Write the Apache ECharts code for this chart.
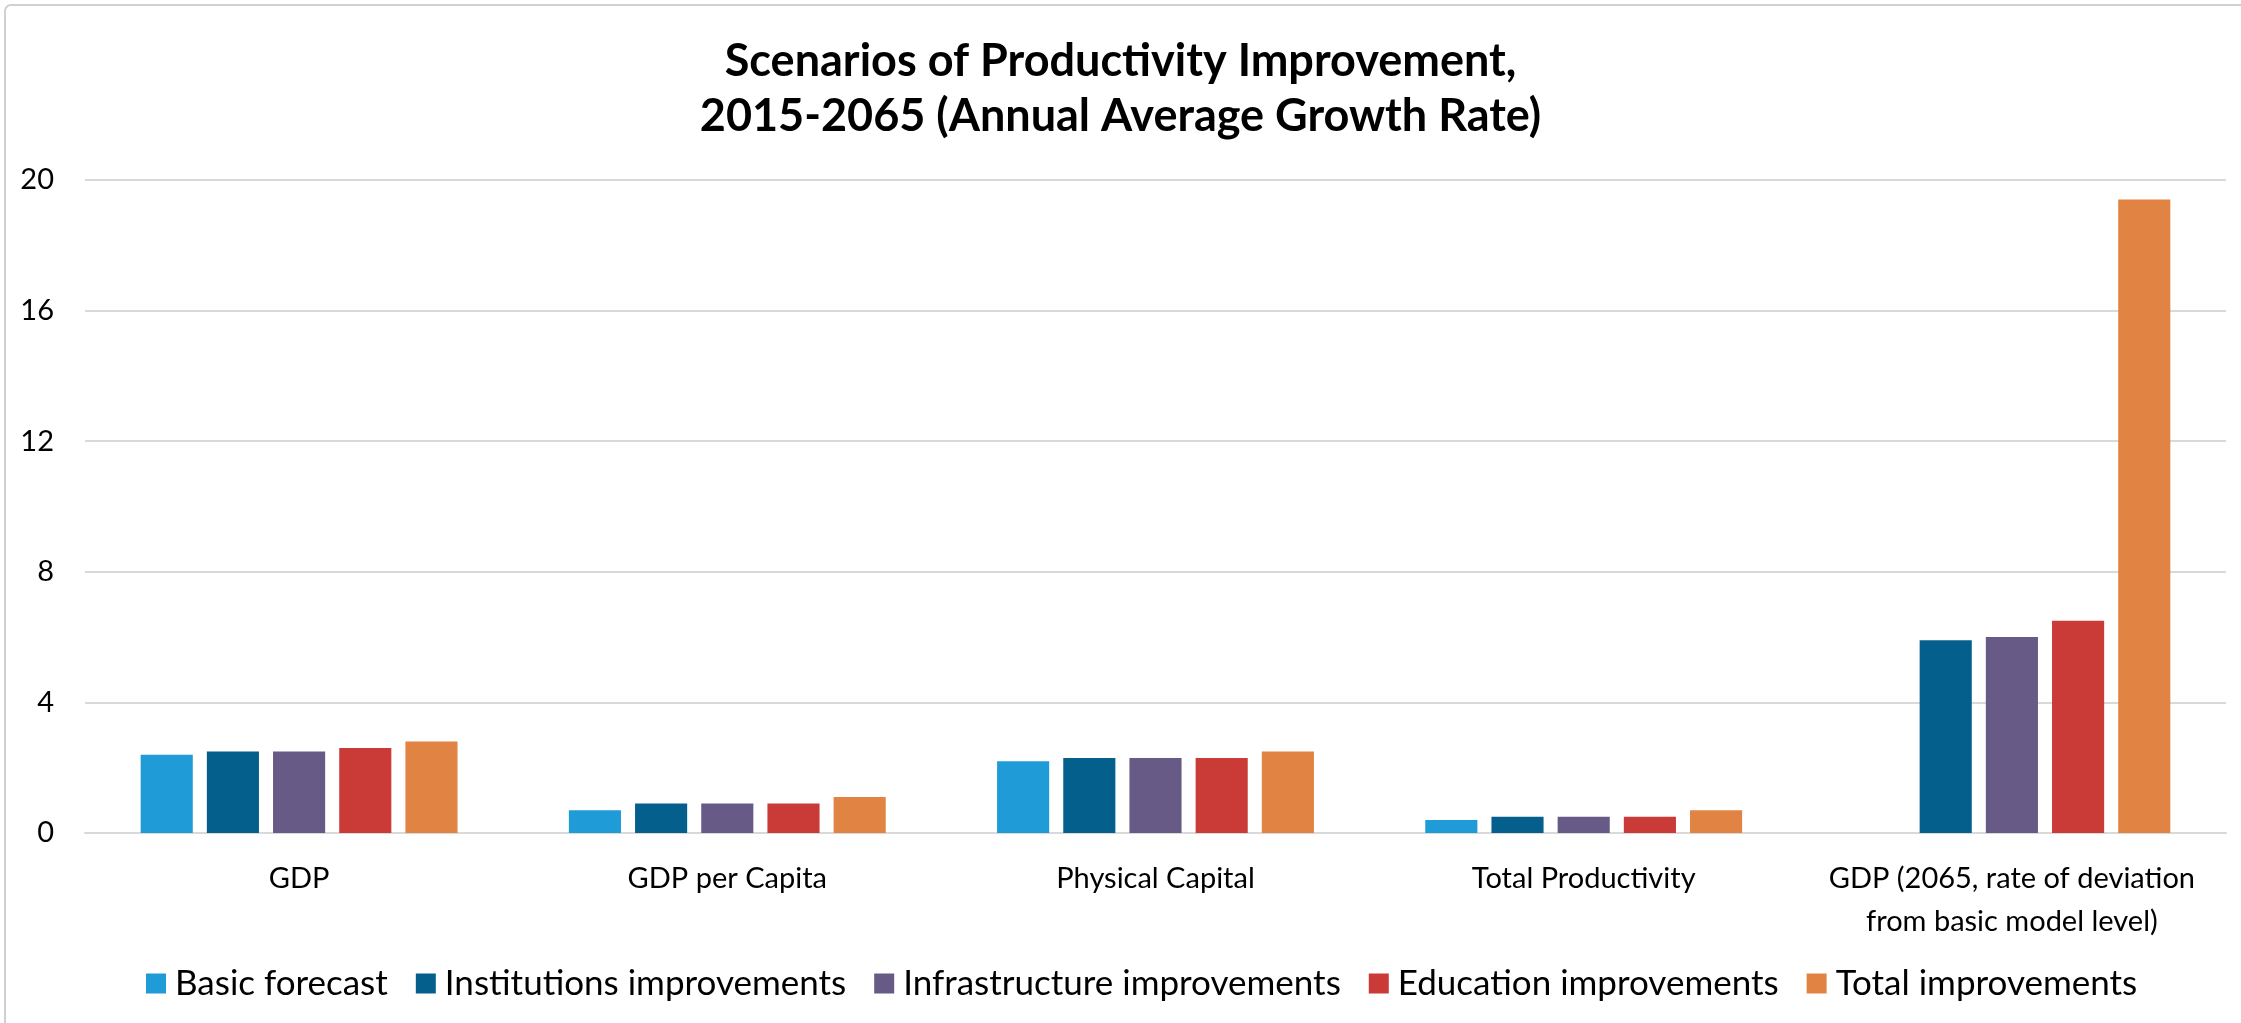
<!DOCTYPE html>
<html>
<head>
<meta charset="utf-8">
<style>
  html, body { margin: 0; padding: 0; background: #ffffff; }
  #chart { width: 2241px; height: 1023px; }
</style>
<script src="https://cdn.jsdelivr.net/npm/echarts@6/dist/echarts.min.js"></script>
</head>
<body>
<div id="chart"></div>
<script>
// Indicators on the category axis
const categories = [
  'GDP',
  'GDP per Capita',
  'Physical Capital',
  'Total Productivity',
  'GDP (2065, rate of deviation\nfrom basic model level)'
];

// Annual average growth rate per scenario (%)
const basicForecast = [2.4, 0.7, 2.2, 0.4, 0];
const institutionsImprovements = [2.5, 0.9, 2.3, 0.5, 5.9];
const infrastructureImprovements = [2.5, 0.9, 2.3, 0.5, 6.0];
const educationImprovements = [2.6, 0.9, 2.3, 0.5, 6.5];
const totalImprovements = [2.8, 1.1, 2.5, 0.7, 19.4];

// Value axis ticks
const yTicks = [0, 4, 8, 12, 16, 20];

const seriesDefs = [
  { name: 'Basic forecast', data: basicForecast, color: '#1f9bd7' },
  { name: 'Institutions improvements', data: institutionsImprovements, color: '#055f8c' },
  { name: 'Infrastructure improvements', data: infrastructureImprovements, color: '#675a86' },
  { name: 'Education improvements', data: educationImprovements, color: '#ca3a36' },
  { name: 'Total improvements', data: totalImprovements, color: '#e18443' }
];

const FONT = 'Lato, "Open Sans", sans-serif';

const chart = echarts.init(document.getElementById('chart'), null, { renderer: 'canvas' });

chart.setOption({
  backgroundColor: '#ffffff',
  animation: false,
  textStyle: { fontFamily: FONT },
  graphic: [{
    type: 'rect',
    shape: { x: 5, y: 5, width: 2260, height: 1040, r: 6 },
    style: { fill: 'none', stroke: '#d0d0d0', lineWidth: 2 },
    silent: true,
    z: -1
  }],
  title: {
    text: 'Scenarios of Productivity Improvement,\n2015-2065 (Annual Average Growth Rate)',
    left: 'center',
    top: 29,
    textStyle: {
      fontFamily: FONT,
      fontSize: 45,
      fontWeight: 'bold',
      color: '#000000',
      lineHeight: 55
    }
  },
  legend: {
    data: seriesDefs.map(s => s.name),
    left: 141,
    top: 961,
    itemWidth: 20,
    itemHeight: 20,
    itemGap: 28,
    icon: 'rect',
    textStyle: {
      fontFamily: FONT,
      fontSize: 35,
      color: '#000000',
      padding: [0, 0, 0, 4]
    }
  },
  grid: {
    left: 85,
    right: 15,
    top: 180,
    bottom: 190,
    containLabel: false
  },
  xAxis: {
    type: 'category',
    data: categories,
    axisLine: { show: true, lineStyle: { color: '#d9d9d9', width: 2 } },
    axisTick: { show: false },
    axisLabel: {
      fontFamily: FONT,
      fontSize: 29,
      color: '#000000',
      margin: 24,
      lineHeight: 43,
      interval: 0
    }
  },
  yAxis: {
    type: 'value',
    min: yTicks[0],
    max: yTicks[yTicks.length - 1],
    interval: yTicks[1] - yTicks[0],
    axisLine: { show: false },
    axisTick: { show: false },
    splitLine: { lineStyle: { color: '#d9d9d9', width: 2 } },
    axisLabel: {
      fontFamily: FONT,
      fontSize: 29,
      color: '#000000',
      margin: 31
    }
  },
  series: seriesDefs.map(s => ({
    name: s.name,
    type: 'bar',
    data: s.data,
    barGap: '27%',
    barCategoryGap: '26%',
    itemStyle: { color: s.color }
  }))
});
</script>
</body>
</html>
